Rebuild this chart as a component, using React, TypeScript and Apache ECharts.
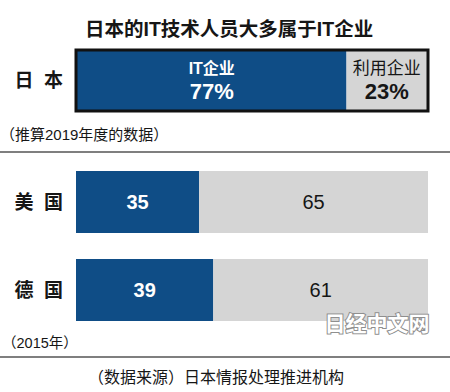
import React, { useEffect, useRef } from "react";
import * as echarts from "echarts";

const titleText = "日本的IT技术人员大多属于IT企业";
const japanCategories = ["日 本"];
const seriesNames = ["IT企业", "利用企业"];
const japanIT = [77];
const japanUser = [23];
const countries = ["美 国", "德 国"];
const itShare = [35, 39];
const userShare = [65, 61];
const noteJapan = "（推算2019年度的数据）";
const noteOthers = "（2015年）";
const sourceText = "（数据来源）日本情报处理推进机构";
const watermark = "日经中文网";

const FONT = "'Liberation Sans', 'Noto Sans CJK SC', sans-serif";
const BLUE = "#0f4d86";
const GRAY = "#d5d5d5";
const DARK = "#161616";

export default function App() {
  const ref = useRef<HTMLDivElement>(null);
  useEffect(() => {
    document.body.style.margin = "0";
    const chart = echarts.init(ref.current!, null, { renderer: "svg" });
    const catLabel = {
      fontSize: 19,
      fontWeight: "bold",
      color: DARK,
      fontFamily: FONT,
      formatter: (v: string) => v.replace(" ", "  "),
    };
    const catAxisBase = {
      type: "category",
      axisLine: { show: false },
      axisTick: { show: false },
    };
    chart.setOption({
      animation: false,
      backgroundColor: "#ffffff",
      title: {
        text: titleText,
        left: 80,
        top: 14,
        textStyle: { fontSize: 19.5, fontWeight: "bold", color: DARK, fontFamily: FONT },
      },
      grid: [
        { left: 77, top: 51, width: 350, height: 59 },
        { left: 76, top: 158, width: 352, height: 176 },
      ],
      xAxis: [
        { gridIndex: 0, type: "value", min: 0, max: 100, show: false },
        { gridIndex: 1, type: "value", min: 0, max: 100, show: false },
      ],
      yAxis: [
        { ...catAxisBase, gridIndex: 0, data: japanCategories, axisLabel: { ...catLabel, margin: 14 } },
        { ...catAxisBase, gridIndex: 1, inverse: true, data: countries, axisLabel: { ...catLabel, margin: 13 } },
      ],
      series: [
        {
          type: "bar",
          name: seriesNames[0],
          xAxisIndex: 0,
          yAxisIndex: 0,
          stack: "jp",
          barWidth: 59,
          data: japanIT,
          itemStyle: { color: BLUE },
          label: {
            show: true,
            position: "inside",
            formatter: (p: any) => `{n|${p.seriesName}}\n{v|${p.value}%}`,
            rich: {
              n: { fontSize: 16, fontWeight: "bold", color: "#fff", fontFamily: FONT, lineHeight: 22 },
              v: { fontSize: 22, fontWeight: "bold", color: "#fff", fontFamily: FONT, lineHeight: 24 },
            },
          },
        },
        {
          type: "bar",
          name: seriesNames[1],
          xAxisIndex: 0,
          yAxisIndex: 0,
          stack: "jp",
          barWidth: 59,
          data: japanUser,
          itemStyle: { color: GRAY },
          label: {
            show: true,
            position: "inside",
            formatter: (p: any) => `{n|${p.seriesName}}\n{v|${p.value}%}`,
            rich: {
              n: { fontSize: 17, color: DARK, fontFamily: FONT, lineHeight: 22 },
              v: { fontSize: 22, fontWeight: "bold", color: DARK, fontFamily: FONT, lineHeight: 24 },
            },
          },
        },
        {
          type: "bar",
          name: seriesNames[0],
          xAxisIndex: 1,
          yAxisIndex: 1,
          stack: "c",
          barWidth: 62,
          data: itShare,
          itemStyle: { color: BLUE },
          label: { show: true, position: "inside", fontSize: 20, fontWeight: "bold", color: "#fff", fontFamily: FONT },
        },
        {
          type: "bar",
          name: seriesNames[1],
          xAxisIndex: 1,
          yAxisIndex: 1,
          stack: "c",
          barWidth: 62,
          data: userShare,
          itemStyle: { color: GRAY },
          label: { show: true, position: "inside", fontSize: 20, color: DARK, fontFamily: FONT },
        },
      ],
      graphic: [
        {
          type: "rect",
          z: 100,
          shape: { x: 76, y: 50, width: 352, height: 61 },
          style: { fill: "none", stroke: "#111", lineWidth: 3 },
        },
        {
          type: "text",
          x: 0,
          y: 134,
          style: { text: noteJapan, fontSize: 15, fontFamily: FONT, fill: DARK, align: "left", verticalAlign: "middle" },
        },
        {
          type: "line",
          shape: { x1: 0, y1: 152, x2: 450, y2: 152 },
          style: { stroke: "#555", lineWidth: 1.5 },
        },
        {
          type: "text",
          x: 2,
          y: 343,
          style: { text: noteOthers, fontSize: 14.5, fontFamily: FONT, fill: DARK, align: "left", verticalAlign: "middle" },
        },
        {
          type: "line",
          shape: { x1: 0, y1: 357, x2: 450, y2: 357 },
          style: { stroke: "#555", lineWidth: 1.5 },
        },
        {
          type: "text",
          x: 216,
          y: 377,
          style: { text: sourceText, fontSize: 16, fontFamily: FONT, fill: DARK, align: "center", verticalAlign: "middle" },
        },
        {
          type: "text",
          x: 377,
          y: 323,
          z: 100,
          style: {
            text: watermark,
            fontSize: 21,
            fontWeight: "bold",
            fontFamily: FONT,
            fill: "#ffffff",
            stroke: "#8f8f8f",
            lineWidth: 2,
            align: "center",
            verticalAlign: "middle",
          },
        },
      ],
    });
    return () => chart.dispose();
  }, []);
  return <div ref={ref} style={{ position: "absolute", left: 0, top: 0, width: 450, height: 392 }} />;
}
